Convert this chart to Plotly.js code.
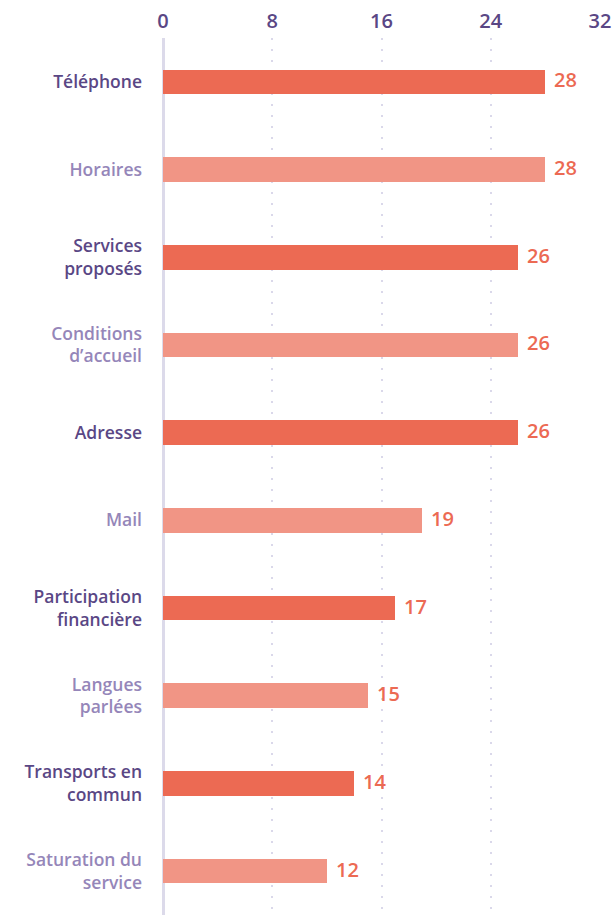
<!DOCTYPE html>
<html><head><meta charset="utf-8">
<script src="https://cdn.plot.ly/plotly-3.0.1.min.js"></script>
<style>html,body{margin:0;padding:0;background:#fff}</style>
</head><body>
<div id="chart" style="width:614px;height:915px"></div>
<script>
const categories = ["Téléphone","Horaires","Services<br>proposés","Conditions<br>d’accueil","Adresse","Mail","Participation<br>financière","Langues<br>parlées","Transports en<br>commun","Saturation du<br>service"];
const values = [28,28,26,26,26,19,17,15,14,12];
const xTicks = [0,8,16,24,32];
const darkBar = "#EC6A53", lightBar = "#F19585";
const darkLabel = "#5A4785", lightLabel = "#9586B9";
const FONT = "'Open Sans', sans-serif";

const barColors = values.map((v,i)=> i%2===0 ? darkBar : lightBar);
const tickText = categories.map((c,i)=> `<span style="color:${i%2===0?darkLabel:lightLabel}">${c}</span>`);

const trace = {
  type:"bar", orientation:"h",
  x: values, y: categories,
  marker:{color: barColors},
  width: 0.28,
  hoverinfo:"none"
};
const annotations = values.map((v,i)=>({
  x: v, y: categories[i], xref:"x", yref:"y",
  text: String(v), showarrow:false, xanchor:"left", xshift:7, yshift:2,
  font:{family:FONT, size:20, color:"#EC6A53", weight:600}
}));
const layout = {
  width:614, height:915,
  margin:{l:163, r:14, t:38, b:0},
  paper_bgcolor:"#fff", plot_bgcolor:"#fff",
  showlegend:false,
  bargap:0,
  xaxis:{
    side:"top", range:[0,32], tickvals:xTicks, ticktext:xTicks.map(String),
    showgrid:true, gridcolor:"#DAD8EA", gridwidth:2, griddash:"2px,9px",
    zeroline:true, zerolinecolor:"#DCDAEA", zerolinewidth:3,
    showline:false, ticks:"", ticklabelstandoff:5,
    tickfont:{family:FONT, size:20, color:"#5A4785", weight:600},
    fixedrange:true
  },
  yaxis:{
    categoryorder:"array", categoryarray:categories, autorange:"reversed",
    tickvals:categories, ticktext:tickText,
    showgrid:false, zeroline:false, showline:false, ticks:"", ticklabelstandoff:20,
    tickfont:{family:FONT, size:17.5, color:darkLabel, weight:600},
    fixedrange:true
  },
  annotations: annotations
};
Plotly.newPlot("chart",[trace],layout,{displayModeBar:false, staticPlot:true});
</script>
</body></html>
